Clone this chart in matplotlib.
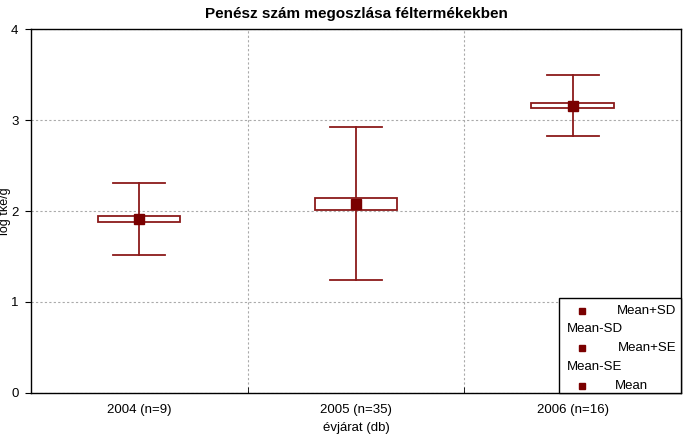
import numpy as np
import matplotlib.pyplot as plt
from matplotlib.patches import Rectangle

# adatok
categories = ["2004 (n=9)", "2005 (n=35)", "2006 (n=16)"]
mean = np.array([1.91, 2.08, 3.155])
sd = np.array([0.395, 0.84, 0.335])
se = np.array([0.035, 0.065, 0.027])

red = "#8b1a1a"
dark = "#7a0000"

plt.rcParams['font.family'] = ['Liberation Sans', 'DejaVu Sans']

fig = plt.figure(figsize=(6.84, 4.37), dpi=100)
ax = fig.add_axes([0.0453, 0.1007, 0.9503, 0.8329])

x = np.arange(len(categories))
box_hw = 0.19
cap_hw = 0.12

for i in x:
    # SD whisker
    ax.plot([i, i], [mean[i] - sd[i], mean[i] + sd[i]], color=red, lw=1.3, zorder=2)
    ax.plot([i - cap_hw, i + cap_hw], [mean[i] + sd[i]] * 2, color=red, lw=1.3, zorder=2)
    ax.plot([i - cap_hw, i + cap_hw], [mean[i] - sd[i]] * 2, color=red, lw=1.3, zorder=2)
    # SE box
    ax.add_patch(Rectangle((i - box_hw, mean[i] - se[i]), 2 * box_hw, 2 * se[i],
                           facecolor="white", edgecolor=red, lw=1.3, zorder=3))
ax.plot(x, mean, "s", color=dark, ms=6.5, zorder=4)

ax.set_xlim(-0.5, 2.5)
ax.set_ylim(0, 4)
ax.set_yticks([0, 1, 2, 3, 4])
ax.set_xticks(x)
ax.set_xticklabels(categories)
ax.set_xticks([0.5, 1.5], minor=True)
ax.tick_params(axis="x", which="major", length=0, pad=8)
ax.tick_params(axis="x", which="minor", direction="in", length=4)
ax.tick_params(axis="y", length=4, pad=5)
ax.tick_params(labelsize=9.5)
ax.grid(True, which="minor", axis="x", color="#aaaaaa", ls=(0, (2, 2)), lw=0.8)
ax.grid(True, which="major", axis="y", color="#aaaaaa", ls=(0, (2, 2)), lw=0.8)
ax.set_axisbelow(True)
for s in ax.spines.values():
    s.set_linewidth(1.0)

ax.set_title("Penész szám megoszlása féltermékekben", fontsize=11, fontweight="bold", pad=8)
ax.set_xlabel("évjárat (db)", fontsize=9.5)
ax.xaxis.set_label_coords(0.5, -0.08)
ax.set_ylabel("log tke/g", fontsize=9)
ax.yaxis.set_label_coords(-0.031, 0.5)

# jelmagyarázat (Statistica stílus)
lx0, ly0 = 0.8125, 0.0
leg = Rectangle((lx0, ly0), 1 - lx0, 0.262, transform=ax.transAxes, facecolor="white",
                edgecolor="black", lw=1.0, zorder=5, clip_on=False)
ax.add_patch(leg)
rows = [(0.226, "Mean+SD", True), (0.175, "Mean-SD", False), (0.123, "Mean+SE", True),
        (0.072, "Mean-SE", False), (0.020, "Mean", True)]
for yy, txt, marker in rows:
    if marker:
        ax.plot([0.847], [yy], "s", color=dark, ms=5, transform=ax.transAxes, zorder=6, clip_on=False)
        if txt == "Mean":
            ax.text(0.8985, yy, txt, transform=ax.transAxes, fontsize=9.5, va="center", ha="left", zorder=6)
        else:
            ax.text(0.993, yy, txt, transform=ax.transAxes, fontsize=9.5, va="center", ha="right", zorder=6)
    else:
        ax.text(0.824, yy, txt, transform=ax.transAxes, fontsize=9.5, va="center", ha="left", zorder=6)

fig.savefig("out.png", dpi=100)
